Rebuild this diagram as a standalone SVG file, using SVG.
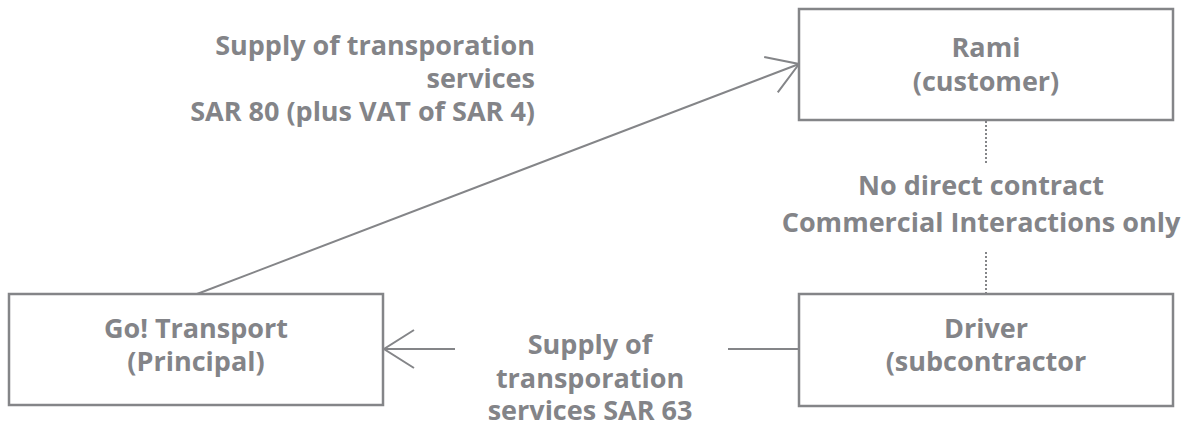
<svg xmlns="http://www.w3.org/2000/svg" width="1184" height="427" viewBox="0 0 1184 427">
<style>
.box{fill:#fff;stroke:#848588;stroke-width:2.5}
.t{font-family:"Open Sans","Liberation Sans",sans-serif;font-weight:700;font-size:27px;fill:#838488;text-anchor:middle}
.ln{stroke:#848588;stroke-width:2;fill:none}
.dot{stroke:#848588;stroke-width:2;stroke-dasharray:2 2;fill:none}
</style>
<defs>
<marker id="arr" markerUnits="userSpaceOnUse" markerWidth="40" markerHeight="40" refX="36" refY="20" orient="auto" viewBox="0 0 40 40">
<path d="M6,1 L36,20 L6,39" fill="none" stroke="#848588" stroke-width="2"/>
</marker>
</defs>
<rect width="1184" height="427" fill="#fff"/>
<g id="connectors">
<line class="ln" x1="197" y1="294" x2="799" y2="64" marker-end="url(#arr)"/>
<line class="ln" x1="455" y1="349" x2="384" y2="349" marker-end="url(#arr)"/>
<line class="ln" x1="728" y1="349" x2="799" y2="349"/>
<line class="dot" x1="986" y1="121" x2="986" y2="164"/>
<line class="dot" x1="986" y1="252" x2="986" y2="293"/>
<text class="t" style="text-anchor:end" x="535"><tspan x="535" y="55">Supply of transporation</tspan><tspan x="535" y="88">services</tspan><tspan x="535" y="121">SAR 80 (plus VAT of SAR 4)</tspan></text>
<text class="t" x="590"><tspan x="590" y="354">Supply of</tspan><tspan x="590" y="388">transporation</tspan><tspan x="590" y="420">services SAR 63</tspan></text>
<text class="t" x="981"><tspan x="981" y="195">No direct contract</tspan><tspan x="981" y="232">Commercial Interactions only</tspan></text>
</g>
<g id="rami">
<rect class="box" x="799" y="9" width="374" height="111"/>
<text class="t"><tspan x="986" y="57">Rami</tspan><tspan x="986" y="91">(customer)</tspan></text>
</g>
<g id="driver">
<rect class="box" x="799" y="294" width="374" height="112"/>
<text class="t"><tspan x="986" y="338">Driver</tspan><tspan x="986" y="371">(subcontractor</tspan></text>
</g>
<g id="goTransport">
<rect class="box" x="9" y="294" width="374" height="111"/>
<text class="t"><tspan x="196" y="338">Go! Transport</tspan><tspan x="196" y="371">(Principal)</tspan></text>
</g>
</svg>
